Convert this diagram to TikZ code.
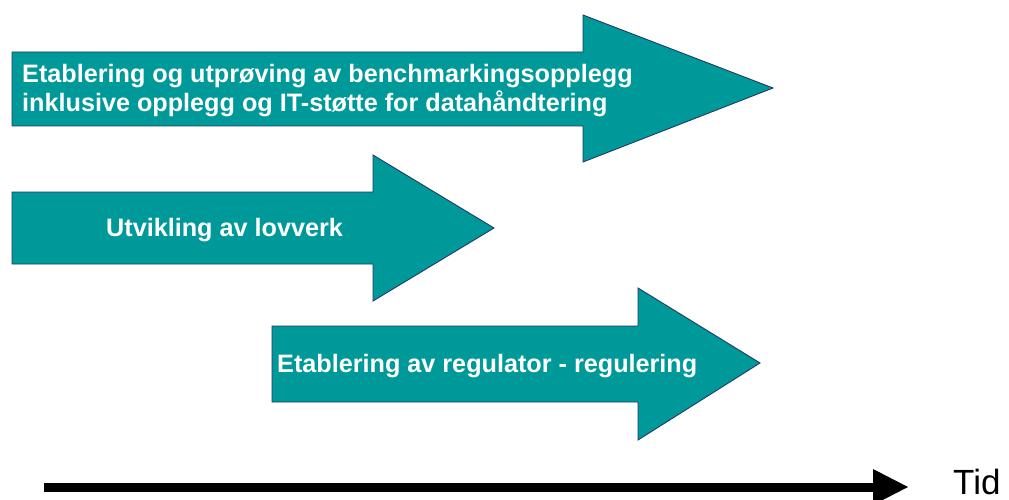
\documentclass[tikz,border=0pt]{standalone}
\usepackage{fontspec}
\setmainfont{Liberation Sans}
\definecolor{teal1}{HTML}{009999}
\definecolor{edge1}{HTML}{1F3A6A}
\begin{document}
\begin{tikzpicture}[x=1pt,y=-1pt,
  phase/.style={fill=teal1,draw=edge1,line width=0.9pt,line join=miter},
  phasetext/.style={text=white,font=\fontsize{25.2}{29}\selectfont\bfseries,inner sep=0pt,align=left},
  timeline/.style={line width=9pt}]
\clip (0,0) rectangle (1009,500);
\fill[white] (0,0) rectangle (1009,500);
% arrow 1
\draw[phase] (12,52) -- (583,52) -- (583,15) -- (773,88) -- (583,162) -- (583,126) -- (12,126) -- cycle;
\node[phasetext,anchor=base west] (t1a) at (22,83) {Etablering og utprøving av benchmarkingsopplegg};
\node[phasetext,anchor=base west] (t1b) at (22,112) {inklusive opplegg og IT-støtte for datahåndtering};
% arrow 2
\draw[phase] (12,192) -- (373,192) -- (373,155) -- (494,228) -- (373,301) -- (373,264) -- (12,264) -- cycle;
\node[phasetext,anchor=base west] (t2) at (106,236) {Utvikling av lovverk};
% arrow 3
\draw[phase] (272,326) -- (638,326) -- (638,288) -- (760,363) -- (638,440) -- (638,402) -- (272,402) -- cycle;
\node[phasetext,anchor=base west] (t3) at (277,372) {Etablering av regulator - regulering};
% time axis
\coordinate (tstart) at (44,487.5);
\coordinate (tbase) at (874,487.5);
\draw[timeline] (tstart) -- (tbase);
\fill (873,469) -- (908,487) -- (873,505) -- cycle;
\node[anchor=base west,inner sep=0pt,font=\fontsize{35}{40}\selectfont] (tid) at (953,494) {Tid};
\end{tikzpicture}
\end{document}
